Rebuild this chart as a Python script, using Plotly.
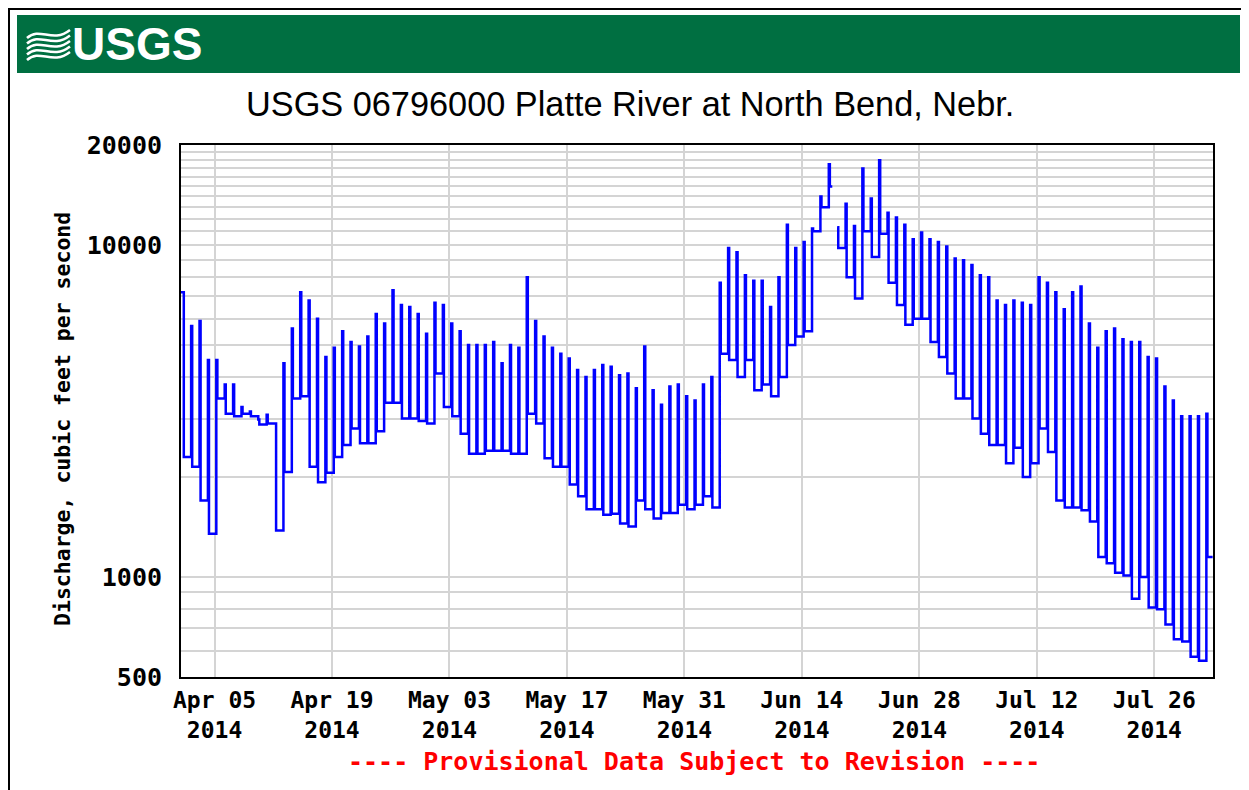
import math
import pandas as pd
import plotly.graph_objects as go

# ---------------- data (daily high / low discharge, cfs) ----------------
start_date = "2014-04-01"
daily_high = [
    7200, 5700, 5900, 4500, 4500, 3800, 3800, 3250, 3150, 2980,   # Apr 1-10
    3080, 2900, 4400, 5600, 7200, 6800, 6000, 4600, 4900, 5500,   # Apr 11-20
    5100, 4950, 5300, 6200, 5800, 7300, 6600, 6500, 6200, 5400,   # Apr 21-30
    6700, 6600, 5800, 5500, 5000, 5000, 5000, 5100, 4400, 5000,   # May 1-10
    4900, 8000, 5900, 5300, 4900, 4700, 4550, 4200, 4000, 4200,   # May 11-20
    4350, 4300, 4050, 4100, 3700, 4950, 3650, 3300, 3750, 3800,   # May 21-30
    3500,                                                         # May 31
    3400, 3800, 4000, 7700, 9800, 9500, 8100, 7800, 7800, 6500,   # Jun 1-10
    8000, 11500, 9800, 10200, 11200, 14000, 17500, 11300, 13300, 11400,  # Jun 11-20
    17000, 13800, 18000, 12500, 12100, 11500, 10400, 10900, 10400, 10200,  # Jun 21-30
    9900, 9100, 9000, 8700, 8100, 8000, 6800, 6600, 6800, 6700,   # Jul 1-10
    6600, 8000, 7700, 7200, 6400, 7200, 7500, 5800, 4900, 5500,   # Jul 11-20
    5600, 5200, 5100, 5100, 4600, 4550, 3750, 3400, 3050, 3050,   # Jul 21-30
    3050, 3100,                                                   # Jul 31 - Aug 1
]
daily_low = [
    2300, 2150, 1700, 1350, 3450, 3100, 3050, 3100, 3050, 2880,   # Apr 1-10
    2900, 1380, 2070, 3450, 3500, 2150, 1930, 2060, 2300, 2500,   # Apr 11-20
    2800, 2530, 2530, 2750, 3350, 3350, 3000, 3000, 2950, 2900,   # Apr 21-30
    4100, 3250, 3050, 2700, 2350, 2350, 2400, 2400, 2400, 2350,   # May 1-10
    2350, 3100, 2900, 2280, 2150, 2150, 1900, 1750, 1600, 1600,   # May 11-20
    1540, 1550, 1450, 1420, 1700, 1600, 1500, 1560, 1560, 1650,   # May 21-30
    1600,                                                         # May 31
    1650, 1750, 1620, 4700, 4500, 4000, 4500, 3650, 3800, 3500,   # Jun 1-10
    4000, 5000, 5300, 5500, 11000, 13000, 15000, 9800, 8000, 6900,  # Jun 11-20
    11000, 9200, 10800, 7700, 6600, 5750, 6000, 6000, 5100, 4600,  # Jun 21-30
    4100, 3450, 3450, 3000, 2700, 2500, 2500, 2200, 2450, 2000,   # Jul 1-10
    2200, 2800, 2380, 1700, 1620, 1620, 1590, 1470, 1150, 1100,   # Jul 11-20
    1030, 1010, 860, 1000, 810, 800, 720, 650, 640, 575,          # Jul 21-30
    560, 1150,                                                    # Jul 31 - Aug 1
]
missing_after = "2014-06-17"   # record interrupted during this day

x_tick_dates = ["2014-04-05", "2014-04-19", "2014-05-03", "2014-05-17", "2014-05-31",
                "2014-06-14", "2014-06-28", "2014-07-12", "2014-07-26"]
x_tick_text = ["Apr 05<br>2014", "Apr 19<br>2014", "May 03<br>2014", "May 17<br>2014",
               "May 31<br>2014", "Jun 14<br>2014", "Jun 28<br>2014", "Jul 12<br>2014",
               "Jul 26<br>2014"]
y_grid_values = list(range(500, 1000, 100)) + list(range(1000, 10000, 1000)) + list(range(10000, 20001, 1000))
y_labels = {500: "500", 1000: "1000", 10000: "10000", 20000: "20000"}

title_text = "USGS 06796000 Platte River at North Bend, Nebr."
y_title = "Discharge, cubic feet per second"
footer_text = "---- Provisional Data Subject to Revision ----"

# ---------------- build stepped series ----------------
days = pd.date_range(start_date, periods=len(daily_high), freq="D")
xs, ys = [], []
for i, (d, h, l) in enumerate(zip(days, daily_high, daily_low)):
    t_high = d if i == 0 else d + pd.Timedelta(hours=5)
    xs += [t_high, d + pd.Timedelta(hours=8)]
    ys += [h, l]
    if d == pd.Timestamp(missing_after):
        xs += [d + pd.Timedelta(hours=15), d + pd.Timedelta(hours=16)]
        ys += [l, None]
xs.append(days[-1] + pd.Timedelta(hours=23))
ys.append(daily_low[-1])

# ---------------- geometry (page pixels -> paper) ----------------
PAGE_OFF = 8                      # default body margin of the html page
W, H = 1249 - PAGE_OFF, 790 - PAGE_OFF
PL, PR, PT, PB = 181, 1213, 145, 677   # plot area in page pixels
def px(x):
    return (x - PL) / (PR - PL)
def py(y):
    return (PB - y) / (PB - PT)

MONO = "DejaVu Sans Mono"
fig = go.Figure()
fig.add_trace(go.Scatter(
    x=xs, y=ys, mode="lines", line=dict(color="#0000FF", width=2.5, shape="hv"),
    connectgaps=False, hoverinfo="skip", showlegend=False))

fig.update_layout(
    width=W, height=H, autosize=False,
    margin=dict(l=PL - PAGE_OFF, r=W - (PR - PAGE_OFF), t=PT - PAGE_OFF, b=H - (PB - PAGE_OFF)),
    paper_bgcolor="white", plot_bgcolor="white",
    showlegend=False,
)
fig.update_xaxes(
    type="date", range=["2014-04-01", "2014-08-02"],
    tickmode="array", tickvals=x_tick_dates, ticktext=x_tick_text,
    tickfont=dict(family=MONO, size=23, color="black", weight="bold"),
    showgrid=True, gridcolor="#d4d4d4", gridwidth=2,
    showline=True, linecolor="black", linewidth=2, mirror=True,
    ticks="", ticklabelstandoff=1, zeroline=False,
)
fig.update_yaxes(
    type="log", range=[math.log10(500), math.log10(20000)],
    tickmode="array", tickvals=y_grid_values,
    ticktext=[y_labels.get(v, "") for v in y_grid_values],
    tickfont=dict(family=MONO, size=25, color="black", weight="bold"),
    showgrid=True, gridcolor="#d4d4d4", gridwidth=2,
    showline=True, linecolor="black", linewidth=2, mirror=True,
    ticks="", ticklabelstandoff=12, zeroline=False,
)

shapes = []
# outer border
shapes.append(dict(type="rect", xref="paper", yref="paper",
                   x0=px(9), x1=px(1245), y0=py(9), y1=py(800),
                   line=dict(color="black", width=2), fillcolor="rgba(0,0,0,0)", layer="below"))
# green banner
shapes.append(dict(type="rect", xref="paper", yref="paper",
                   x0=px(17), x1=px(1240), y0=py(15), y1=py(73),
                   line=dict(width=0), fillcolor="#006F41", layer="below"))
# wave logo
for k in range(5):
    y0 = 34 + 5.5 * k
    path = "M {:.5f},{:.5f} C {:.5f},{:.5f} {:.5f},{:.5f} {:.5f},{:.5f}".format(
        px(27), py(y0 + 4), px(40), py(y0 - 8), px(52), py(y0 + 10), px(70), py(y0 - 4))
    shapes.append(dict(type="path", xref="paper", yref="paper", path=path,
                       line=dict(color="white", width=2.5)))
fig.update_layout(shapes=shapes)

annotations = [
    dict(text="USGS", x=px(70), y=py(44), xref="paper", yref="paper", xanchor="left", yanchor="middle",
         showarrow=False, font=dict(family="Liberation Sans", size=46, color="white", weight="bold")),
    dict(text=title_text, x=px(630), y=py(104), xref="paper", yref="paper",
         xanchor="center", yanchor="middle", showarrow=False,
         font=dict(family="Liberation Sans", size=34.3, color="black")),
    dict(text=y_title, x=px(62), y=py(419), xref="paper", yref="paper",
         xanchor="center", yanchor="middle", textangle=-90, showarrow=False,
         font=dict(family=MONO, size=21.5, color="black", weight="bold")),
    dict(text=footer_text, x=px(694), y=py(761), xref="paper", yref="paper",
         xanchor="center", yanchor="middle", showarrow=False,
         font=dict(family=MONO, size=25, color="#FF0000", weight="bold")),
]
fig.update_layout(annotations=annotations)

fig.write_html("out.html")
